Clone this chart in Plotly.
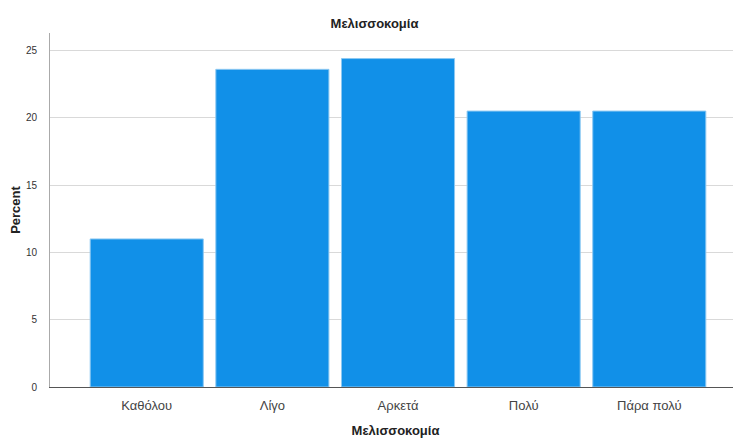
import plotly.graph_objects as go

categories = ["Καθόλου", "Λίγο", "Αρκετά", "Πολύ", "Πάρα πολύ"]
percent = [11.0, 23.6, 24.4, 20.5, 20.5]
y_ticks = [0, 5, 10, 15, 20, 25]

fig = go.Figure()
fig.add_trace(go.Bar(
    x=categories, y=percent,
    marker=dict(color="#1190E8", line=dict(color="#8CC8F2", width=1)),
    width=0.9,
))

# page body has an 8px margin, so the figure is sized to fit inside it
fig.update_layout(
    width=733, height=430,
    margin=dict(l=42, r=0, t=25, b=51),
    paper_bgcolor="white", plot_bgcolor="white",
    font=dict(family="Liberation Sans, Arial, sans-serif", color="#222"),
    title=dict(text="<b>Μελισσοκομία</b>", x=0.5, xanchor="center",
               y=0.965, yanchor="middle", font=dict(size=13, color="#222")),
    showlegend=False,
    bargap=0.1,
)
fig.update_xaxes(
    range=[-0.77, 4.73],
    showline=True, linecolor="#555", linewidth=1,
    showgrid=False, ticks="",
    tickfont=dict(size=13, color="#444"),
    ticklabelstandoff=6,
    title=dict(text="<b>Μελισσοκομία</b>", font=dict(size=13, color="#222"), standoff=15),
)
fig.update_yaxes(
    range=[0, 26.3],
    tickvals=y_ticks,
    showline=True, linecolor="#aaa", linewidth=1,
    showgrid=True, gridcolor="#d9d9d9", gridwidth=1,
    zeroline=False,
    ticks="", ticklabelstandoff=10,
    tickfont=dict(size=10, color="#333"),
    title=dict(text="<b>Percent</b>", font=dict(size=13, color="#222"), standoff=5),
)

fig.write_html("out.html")
